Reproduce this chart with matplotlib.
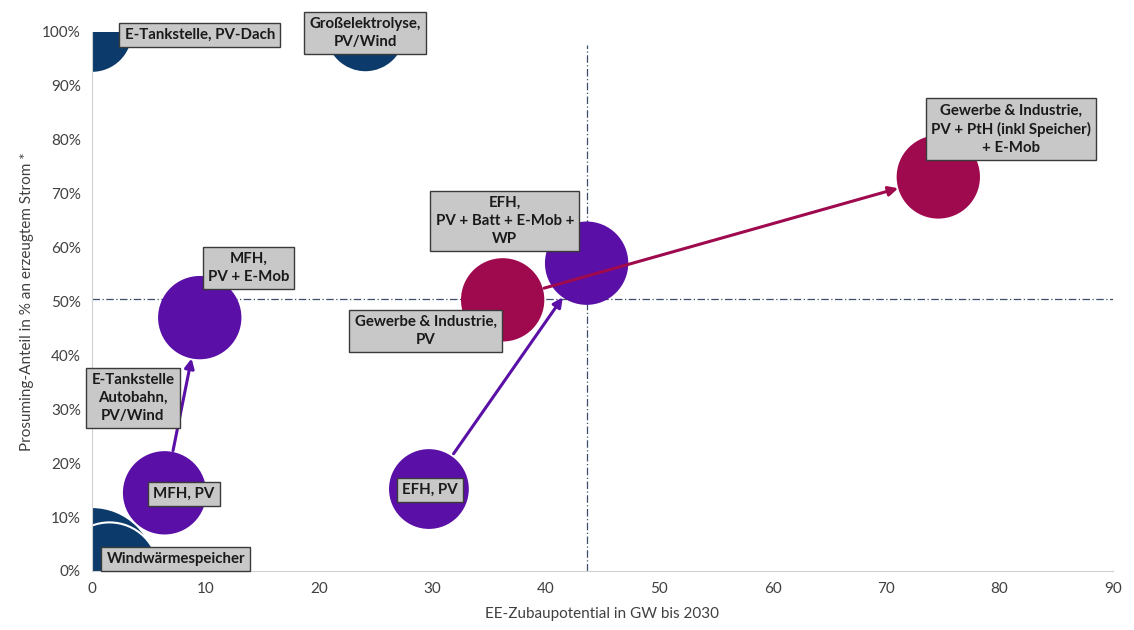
import matplotlib
matplotlib.use("Agg")
import matplotlib.pyplot as plt
from matplotlib.ticker import PercentFormatter

plt.rcParams['font.family'] = ['Lato', 'DejaVu Sans']

# Blasen: Name, EE-Zubaupotential (GW), Prosuming-Anteil (%)
namen = ['E-Tankstelle, PV-Dach', 'Großelektrolyse,\nPV/Wind', 'Windwärmespeicher',
         'E-Tankstelle\nAutobahn,\nPV/Wind', 'MFH, PV', 'MFH,\nPV + E-Mob', 'EFH, PV',
         'Gewerbe & Industrie,\nPV', 'EFH,\nPV + Batt + E-Mob +\nWP',
         'Gewerbe & Industrie,\nPV + PtH (inkl Speicher)\n+ E-Mob']
gw = [0.0, 24.1, 0.0, 1.5, 6.4, 9.5, 29.7, 36.2, 43.6, 74.6]
anteil = [100, 100, 0, 0, 14.5, 47, 15.2, 50.3, 57.1, 73.1]
gruppe = ['navy', 'navy', 'navy', 'navy', 'lila', 'lila', 'lila', 'rot', 'lila', 'rot']

# Pfeile (von Blase -> zu Blase)
pfeile = [(4, 5), (6, 8), (7, 9)]

# Schwellwerte (gestrichelte Linien)
x_schwelle = 43.6
y_schwelle = 50.5

farben = {'navy': '#0c3a6b', 'lila': '#5a0fa6', 'rot': '#9f0a4f'}
groesse = [3300, 3200, 8200, 5000, 3600, 3600, 3300, 3600, 3600, 3600]
kanten = ['none', 'none', 'none', 'white', 'none', 'none', 'none', 'none', 'none', 'none']
# Position der Beschriftungsboxen
label_pos = [(9.5, 99.4), (24.1, 99.8), (7.4, 2.2), (3.6, 32.1), (8.1, 14.3),
             (13.8, 56.2), (29.8, 15.0), (29.4, 44.5), (36.4, 64.9), (81.0, 82.0)]

fig = plt.figure(figsize=(11.34, 6.3), dpi=100)
ax = fig.add_axes([0.0811, 0.0937, 0.9004, 0.8556])

for i in range(len(namen)):
    ax.scatter(gw[i], anteil[i], s=groesse[i], color=farben[gruppe[i]],
               edgecolors=kanten[i], linewidths=1.5, zorder=2)

ax.axhline(y_schwelle, color='#3b4f6b', lw=0.9, ls=(0, (6, 2, 1, 2)), zorder=1)
ax.vlines(x_schwelle, 0, 97.6, color='#3b4f6b', lw=0.9, ls=(0, (6, 2, 1, 2)), zorder=1)

for a, b in pfeile:
    ax.annotate('', xy=(gw[b], anteil[b]), xytext=(gw[a], anteil[a]),
                arrowprops=dict(arrowstyle='-|>', color=farben[gruppe[b]], lw=2.2,
                                shrinkA=31, shrinkB=30, mutation_scale=14),
                zorder=3)

for i, txt in enumerate(namen):
    ax.text(label_pos[i][0], label_pos[i][1], txt, ha='center', va='center',
            fontsize=10.8, fontweight='bold', color='#1a1a1a', linespacing=1.35,
            bbox=dict(boxstyle='square,pad=0.35', fc='#c8c8c8', ec='#3a3a3a', lw=1),
            zorder=4)

ax.set_xlim(0, 90)
ax.set_ylim(0, 100)
ax.set_xticks(range(0, 91, 10))
ax.set_yticks(range(0, 101, 10))
ax.yaxis.set_major_formatter(PercentFormatter(decimals=0))
ax.tick_params(length=0, labelsize=11, labelcolor='#404040', pad=8)
for s in ['top', 'right']:
    ax.spines[s].set_visible(False)
for s in ['left', 'bottom']:
    ax.spines[s].set_color('#d0d0d0')
ax.set_xlabel('EE-Zubaupotential in GW bis 2030', fontsize=11, color='#404040', labelpad=8)
ax.set_ylabel('Prosuming-Anteil in % an erzeugtem Strom *', fontsize=11, color='#404040', labelpad=6)

fig.savefig('out.png', dpi=100)
